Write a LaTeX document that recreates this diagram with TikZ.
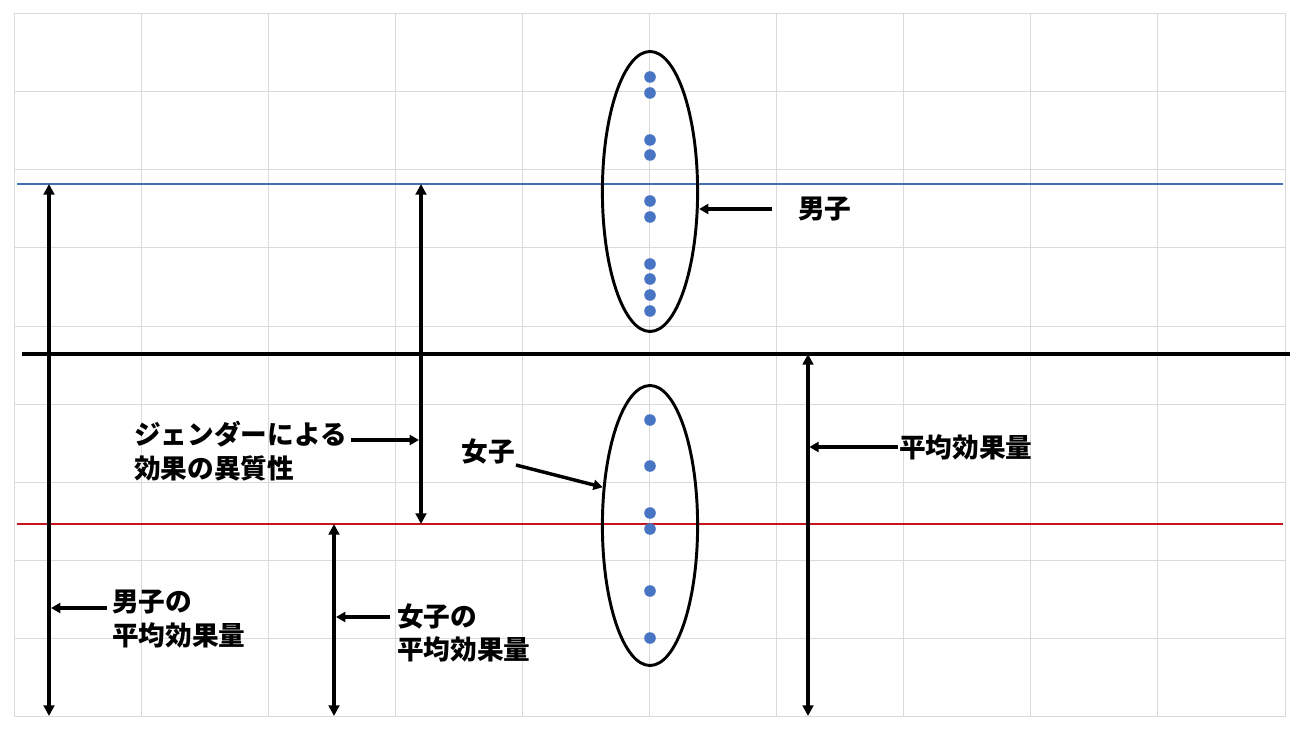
\documentclass[tikz,border=0pt]{standalone}
\usepackage{fontspec}
\newfontfamily\jpfont{Noto Sans CJK JP}
\usepackage{xcolor}
\usetikzlibrary{arrows.meta,shapes.geometric}
\definecolor{gridgray}{RGB}{218,218,218}
\definecolor{boysblue}{RGB}{68,110,180}
\definecolor{girlsred}{RGB}{200,20,30}
\definecolor{dotblue}{RGB}{72,116,196}

\begin{document}
\begin{tikzpicture}[x=0.75pt,y=0.75pt,yscale=-1,xscale=1,
  note text/.style={inner sep=0.75pt,align=left,font=\jpfont\bfseries\fontsize{20}{25}\selectfont},
  span arrow/.style={line width=2.9pt,{Triangle[length=8pt,width=8pt]}-{Triangle[length=8pt,width=8pt]}},
  note arrow/.style={line width=2.6pt,-{Triangle[length=7pt,width=7.5pt]}},
  cluster/.style={draw,ellipse,line width=2.2pt,inner sep=0pt,minimum width=71.4pt,minimum height=210pt},
  dotfill/.style={fill=dotblue}]
  \useasboundingbox (0,0) rectangle (1300,731);
  %Grid
  \draw[gridgray,line width=0.75pt,shift={(14,14)}] (0,0) grid[xstep=127.1,ystep=78] (1271.5,702.5);

  %Mean lines
  \coordinate (blueL) at (17,184);  \coordinate (blueR) at (1283,184);
  \coordinate (meanL) at (22,354);  \coordinate (meanR) at (1290,354);
  \coordinate (redL) at (17,524);   \coordinate (redR) at (1283,524);
  \draw[boysblue,line width=1.9pt] (blueL) -- (blueR);
  \draw[line width=2.6pt] (meanL) -- (meanR);
  \draw[girlsred,line width=1.9pt] (redL) -- (redR);

  %Clusters
  \node[cluster] (boysell) at (650,191.5) {};
  \node[cluster] (girlsell) at (650,525.5) {};
  %Boys' points
  \fill[dotfill] (650,77) circle (5.8);  \fill[dotfill] (650,93) circle (5.8);
  \fill[dotfill] (650,140) circle (5.8); \fill[dotfill] (650,155) circle (5.8);
  \fill[dotfill] (650,201) circle (5.8); \fill[dotfill] (650,217) circle (5.8);
  \fill[dotfill] (650,264) circle (5.8); \fill[dotfill] (650,279) circle (5.8);
  \fill[dotfill] (650,295) circle (5.8); \fill[dotfill] (650,311) circle (5.8);
  %Girls' points
  \fill[dotfill] (650,420) circle (5.8); \fill[dotfill] (650,466) circle (5.8);
  \fill[dotfill] (650,513) circle (5.8); \fill[dotfill] (650,529) circle (5.8);
  \fill[dotfill] (650,591) circle (5.8); \fill[dotfill] (650,638) circle (5.8);

  %Span arrows
  \coordinate (boystop) at (49,184);   \coordinate (boysbot) at (49,716);
  \coordinate (gaptop) at (421,184);   \coordinate (gapbot) at (421,524);
  \coordinate (girlstop) at (334,524); \coordinate (girlsbot) at (334,716);
  \coordinate (alltop) at (808,354);   \coordinate (allbot) at (808,716);
  \draw[span arrow] (boystop) -- (boysbot);
  \draw[span arrow] (gaptop) -- (gapbot);
  \draw[span arrow] (girlstop) -- (girlsbot);
  \draw[span arrow] (alltop) -- (allbot);

  % Text Node
  \node[note text,anchor=west] (boys) at (797,209) {男子};
  \path (boys.west) ++(-25,0) coordinate (boysfrom);
  \draw[note arrow] (boysfrom) -- (boysfrom -| boysell.east);
  % Text Node
  \node[note text,anchor=west] (alleff) at (898,447) {平均効果量};
  \draw[note arrow,shorten >=1pt] (alleff.west) -- (alleff.west -| alltop);
  % Text Node
  \node[note text,anchor=north east] (gender) at (348,420) {ジェンダーによる\\効果の異質性};
  \path (gender.north east) ++(3,20) coordinate (genderfrom);
  \draw[note arrow,shorten >=1.5pt] (genderfrom) -- (genderfrom -| gaptop);
  % Text Node
  \node[note text] (girls) at (488,451) {女子};
  \draw[note arrow] (girls.south east) -- (girlsell.141.6);
  % Text Node
  \node[note text,anchor=west] (boysmean) at (111,619) {男子の\\平均効果量};
  \path (boysmean.west) ++(-4,-11) coordinate (boysmeanfrom);
  \draw[note arrow,shorten >=1.5pt] (boysmeanfrom) -- (boysmeanfrom -| boystop);
  % Text Node
  \node[note text,anchor=west] (girlsmean) at (396,633) {女子の\\平均効果量};
  \path (girlsmean.west) ++(-6,-16) coordinate (girlsmeanfrom);
  \draw[note arrow,shorten >=1.5pt] (girlsmeanfrom) -- (girlsmeanfrom -| girlstop);
\end{tikzpicture}
\end{document}
